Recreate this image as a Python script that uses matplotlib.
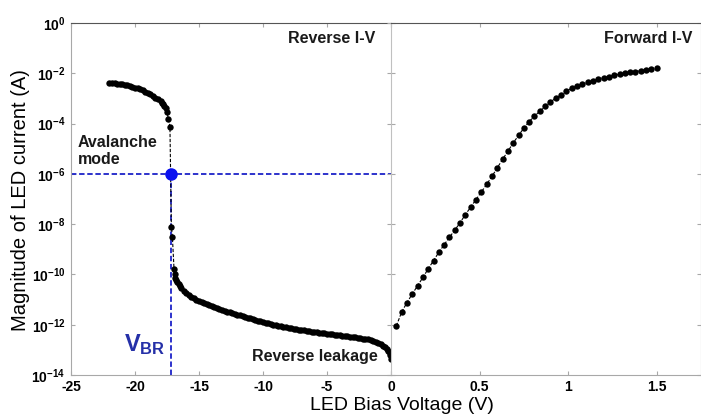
import matplotlib
matplotlib.use("Agg")
import matplotlib.pyplot as plt
import matplotlib.ticker as mticker
import numpy as np

plt.rcParams["font.family"] = ["Liberation Sans", "DejaVu Sans"]
plt.rcParams["mathtext.fontset"] = "custom"
plt.rcParams["mathtext.rm"] = "Liberation Sans"
plt.rcParams["mathtext.bf"] = "Liberation Sans:bold"

# reverse sweep: bias (V) and log10 of |current| (A)
rev_v = [-22.0, -21.8, -21.6, -21.4, -21.2, -21.0, -20.8, -20.6, -20.4, -20.2,
         -20.0, -19.8, -19.6, -19.4, -19.2, -19.0, -18.8, -18.6, -18.4, -18.2,
         -18.0, -17.9, -17.8, -17.7, -17.6, -17.5, -17.4, -17.27,
         -17.16, -17.08, -16.95, -16.9, -16.85, -16.8, -16.7, -16.6, -16.5, -16.4,
         -16.2, -16.0, -15.8, -15.6, -15.4, -15.2, -15.0, -14.8, -14.6, -14.4,
         -14.2, -14.0, -13.8, -13.6, -13.4, -13.2, -13.0, -12.8, -12.6, -12.4,
         -12.2, -12.0, -11.8, -11.6, -11.4, -11.2, -11.0, -10.8, -10.6, -10.4,
         -10.2, -10.0, -9.8, -9.6, -9.4, -9.2, -9.0, -8.8, -8.6, -8.4,
         -8.2, -8.0, -7.8, -7.6, -7.4, -7.2, -7.0, -6.8, -6.6, -6.4,
         -6.2, -6.0, -5.8, -5.6, -5.4, -5.2, -5.0, -4.8, -4.6, -4.4,
         -4.2, -4.0, -3.8, -3.6, -3.4, -3.2, -3.0, -2.8, -2.6, -2.4,
         -2.2, -2.0, -1.8, -1.6, -1.4, -1.2, -1.0, -0.8, -0.6, -0.45,
         -0.3, -0.2, -0.1, -0.05, 0.0]
rev_log_i = [-2.39, -2.39, -2.40, -2.41, -2.42, -2.44, -2.46, -2.48, -2.51, -2.54,
             -2.57, -2.60, -2.64, -2.68, -2.73, -2.78, -2.84, -2.90, -2.97, -3.04,
             -3.12, -3.18, -3.24, -3.31, -3.40, -3.55, -3.80, -4.12,
             -8.10, -8.50, -9.80, -10.00, -10.15, -10.22, -10.32, -10.40, -10.47, -10.53,
             -10.65, -10.75, -10.83, -10.90, -10.95, -11.00, -11.05, -11.10, -11.15, -11.19,
             -11.23, -11.27, -11.31, -11.34, -11.38, -11.41, -11.45, -11.48, -11.51, -11.54,
             -11.57, -11.60, -11.63, -11.66, -11.69, -11.72, -11.75, -11.78, -11.81, -11.84,
             -11.87, -11.90, -11.92, -11.95, -11.97, -12.00, -12.02, -12.04, -12.06, -12.08,
             -12.10, -12.12, -12.14, -12.16, -12.18, -12.20, -12.21, -12.23, -12.25, -12.26,
             -12.28, -12.29, -12.30, -12.31, -12.33, -12.34, -12.35, -12.36, -12.38, -12.39,
             -12.40, -12.41, -12.43, -12.44, -12.46, -12.47, -12.49, -12.50, -12.52, -12.53,
             -12.55, -12.56, -12.58, -12.61, -12.64, -12.67, -12.71, -12.76, -12.83, -12.90,
             -12.98, -13.05, -13.13, -13.22, -13.35]

# forward sweep
fwd_v = [0.03, 0.06, 0.09, 0.12, 0.15, 0.18, 0.21, 0.24, 0.27, 0.30,
         0.33, 0.36, 0.39, 0.42, 0.45, 0.48, 0.51, 0.54, 0.57, 0.60,
         0.63, 0.66, 0.69, 0.72, 0.75, 0.78, 0.81, 0.84, 0.87, 0.90,
         0.93, 0.96, 0.99, 1.02, 1.05, 1.08, 1.11, 1.14, 1.17, 1.20,
         1.23, 1.26, 1.29, 1.32, 1.35, 1.38, 1.41, 1.44, 1.47, 1.50]
fwd_log_i = [-12.05, -11.50, -11.12, -10.78, -10.45, -10.12, -9.78, -9.45, -9.12, -8.82,
             -8.52, -8.24, -7.94, -7.62, -7.32, -7.02, -6.72, -6.42, -6.10, -5.76,
             -5.42, -5.10, -4.77, -4.47, -4.18, -3.92, -3.70, -3.51, -3.32, -3.14,
             -2.99, -2.86, -2.70, -2.60, -2.51, -2.43, -2.36, -2.29, -2.23, -2.18,
             -2.13, -2.08, -2.04, -2.00, -1.96, -1.93, -1.90, -1.86, -1.82, -1.79]

v_br = -17.2
i_br = 1e-6

rev_ticks = [-25, -20, -15, -10, -5, 0]
fwd_ticks = [0, 0.5, 1, 1.5]
y_ticks = [1e0, 1e-2, 1e-4, 1e-6, 1e-8, 1e-10, 1e-12, 1e-14]

W, H = 701, 417
fig = plt.figure(figsize=(W / 100, H / 100), dpi=100)
bottom = 1 - 375 / H
height = (375 - 23) / H
ax_r = fig.add_axes([71 / W, bottom, 320 / W, height])
ax_f = fig.add_axes([391 / W, bottom, 310 / W, height])

spine_grey = "#a8a8a8"
top_grey = "#555555"
pt_style = dict(color="black", linestyle=(0, (3, 1.5)), linewidth=0.8,
                marker="o", markersize=4.6, markeredgewidth=0)

ax_r.plot(rev_v, 10 ** np.array(rev_log_i), **pt_style, zorder=3)
ax_f.plot(fwd_v, 10 ** np.array(fwd_log_i), **pt_style, zorder=3)

# breakdown point with guide lines to both axes
blue = "#1c22c8"
ax_r.plot([-25, 0], [i_br, i_br], color=blue, linestyle=(0, (3, 1.5)), linewidth=1.3, zorder=2)
ax_r.plot([v_br, v_br], [1e-14, i_br], color=blue, linestyle=(0, (3, 1.5)), linewidth=1.3, zorder=2)
ax_r.plot([v_br], [i_br], "o", color="#0a10f0", markersize=8, zorder=4)

for ax in (ax_r, ax_f):
    ax.set_yscale("log")
    ax.set_ylim(1e-14, 1e0)
    ax.set_yticks(y_ticks)
    ax.yaxis.set_minor_locator(mticker.NullLocator())
    ax.tick_params(which="both", direction="in", length=3, color=spine_grey,
                   top=True, labelsize=10)
    ax.tick_params(axis="x", pad=3.5)
    for side in ("left", "right", "bottom"):
        ax.spines[side].set_color(spine_grey)
    ax.spines["top"].set_color(top_grey)

ax_r.set_xlim(-25, 0)
ax_r.set_xticks(rev_ticks)
ax_r.set_xticklabels([str(t) for t in rev_ticks], fontweight="bold")
ax_r.spines["right"].set_visible(False)
ax_r.yaxis.set_major_formatter(mticker.FuncFormatter(
    lambda y, _: r"$\mathbf{10^{%d}}$" % round(np.log10(y))))
ax_r.tick_params(axis="y", pad=4)

ax_f.set_xlim(0, 1.75)
ax_f.set_xticks(fwd_ticks)
ax_f.set_xticklabels([""] + ["0.5", "1", "1.5"], fontweight="bold")
ax_f.tick_params(axis="y", left=True, right=True, labelleft=False, direction="inout", length=6)
ax_f.spines["left"].set_color("#c0c0c0")

bold_txt = dict(fontsize=11.5, fontweight="bold", color="#1a1a1a")
ax_r.text(-1.2, 10 ** -0.6, "Reverse I-V", ha="right", va="center", **bold_txt)
ax_f.text(1.7, 10 ** -0.6, "Forward I-V", ha="right", va="center", **bold_txt)
ax_r.text(-24.5, 10 ** -5.1, "Avalanche\nmode", ha="left", va="center",
          linespacing=1.15, **bold_txt)
ax_r.text(-1.0, 10 ** -13.25, "Reverse leakage", ha="right", va="center", **bold_txt)
ax_r.text(-17.6, 10 ** -12.8, r"$\mathbf{V_{BR}}$", ha="right", va="center",
          fontsize=17, color="#2530a8")

fig.text(21 / W, 1 - 200 / H, "Magnitude of LED current (A)", rotation=90,
         ha="center", va="center", fontsize=14.5)
fig.text(402 / W, 1 - 406 / H, "LED Bias Voltage (V)", ha="center", va="center",
         fontsize=14)

fig.savefig("out.png", dpi=100)
